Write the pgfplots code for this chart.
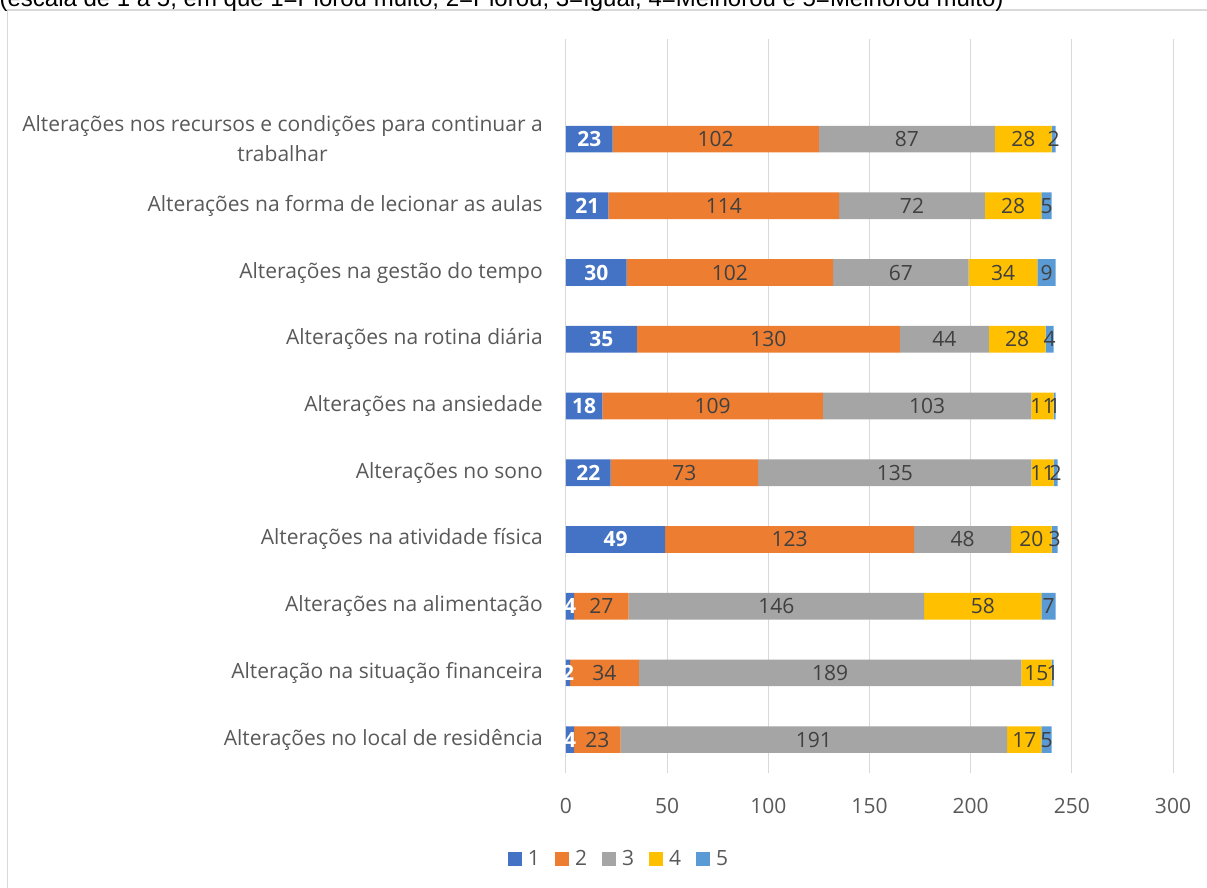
\documentclass[border=0pt]{standalone}
\usepackage{pgfplots}
\pgfplotsset{compat=1.18}
\usepackage{pgfplotstable}
\usepackage{fontspec}
\setmainfont{Open Sans}
\newfontfamily\arialfont{Liberation Sans}
\definecolor{c1}{HTML}{4472C4}
\definecolor{c2}{HTML}{ED7D31}
\definecolor{c3}{HTML}{A5A5A5}
\definecolor{c4}{HTML}{FFC000}
\definecolor{c5}{HTML}{5B9BD5}
\definecolor{gridc}{HTML}{D9D9D9}
\definecolor{labc}{HTML}{595959}
\definecolor{datc}{HTML}{404040}

\pgfplotstableread{
y a b c d e
0 4 23 191 17 5
1 2 34 189 15 1
2 4 27 146 58 7
3 49 123 48 20 3
4 22 73 135 11 2
5 18 109 103 11 1
6 35 130 44 28 4
7 30 102 67 34 9
8 21 114 72 28 5
9 23 102 87 28 2
}\data

\pgfplotsset{
  /pgf/number format/assume math mode=true,
  base/.style={
    scale only axis, width=455.25pt, height=550.5pt,
    xmin=0, xmax=300, ymin=-0.5, ymax=10.5,
    at={(424.5pt,-579.75pt)}, anchor=south west,
  },
  sq/.style={legend image code/.code={\fill[##1] (0pt,-5.25pt) rectangle (10.5pt,5.25pt);}},
  lab/.style={only marks, mark=none, nodes near coords, point meta=explicit,
    every node near coord/.append style={anchor=center, font=\fontsize{15.75}{18}\selectfont, text=datc}},
}

\begin{document}
\begin{tikzpicture}
% frame and cut title
\draw[gridc, line width=1.1pt] (5.5pt,-700pt) -- (5.5pt,-7.6pt) -- (920pt,-7.6pt);
\node[anchor=base west, inner sep=0pt, font=\arialfont\fontsize{18}{20}\selectfont, text=black] at (-0.5pt,-4.9pt)
  {(escala de 1 a 5, em que 1=Piorou muito, 2=Piorou, 3=Igual, 4=Melhorou e 5=Melhorou muito)};

\begin{axis}[base, xbar stacked, bar width=20pt,
  xtick={0,50,...,300}, ytick={0,...,9},
  yticklabels={Alterações no local de residência, Alteração na situação financeira, Alterações na alimentação, Alterações na atividade física, Alterações no sono, Alterações na ansiedade, Alterações na rotina diária, Alterações na gestão do tempo, Alterações na forma de lecionar as aulas, {Alterações nos recursos e condições para continuar a\\trabalhar}},
  xmajorgrids, grid style={gridc, line width=0.75pt},
  axis line style={draw=none}, major tick length=0pt,
  tick label style={font=\fontsize{15.75}{22.5}\selectfont, text=labc},
  yticklabel style={align=center, inner sep=0pt, xshift=-17.25pt},
  xticklabel style={inner sep=0pt, anchor=north, yshift=-19pt},
  legend columns=5,
  legend style={at={(0.0857,-0.1172)}, anchor=center, draw=none, fill=none,
    font=\fontsize{15.75}{18}\selectfont, text=labc, inner sep=0pt,
    nodes={inner sep=0pt},
    /tikz/every odd column/.append style={column sep=4.5pt},
    /tikz/every even column/.append style={column sep=11.25pt}},
]
\addplot[fill=c1, draw=none, sq] table[x=a, y=y]{\data};
\addplot[fill=c2, draw=none, sq] table[x=b, y=y]{\data};
\addplot[fill=c3, draw=none, sq] table[x=c, y=y]{\data};
\addplot[fill=c4, draw=none, sq] table[x=d, y=y]{\data};
\addplot[fill=c5, draw=none, sq] table[x=e, y=y]{\data};
\legend{1,2,3,4,5}
\end{axis}

\begin{axis}[base, hide axis]
\addplot[lab, every node near coord/.append style={text=white, font=\bfseries\fontsize{15.75}{18}\selectfont}] table[x expr=\thisrow{a}/2, y=y, meta=a]{\data};
\addplot[lab] table[x expr=\thisrow{a}+\thisrow{b}/2, y=y, meta=b]{\data};
\addplot[lab] table[x expr=\thisrow{a}+\thisrow{b}+\thisrow{c}/2, y=y, meta=c]{\data};
\addplot[lab] table[x expr=\thisrow{a}+\thisrow{b}+\thisrow{c}+\thisrow{d}/2, y=y, meta=d]{\data};
\addplot[lab] table[x expr=\thisrow{a}+\thisrow{b}+\thisrow{c}+\thisrow{d}+\thisrow{e}/2, y=y, meta=e]{\data};
\end{axis}

\pgfresetboundingbox
\useasboundingbox (0pt,0pt) rectangle (905.25pt,-666pt);
\end{tikzpicture}
\end{document}
